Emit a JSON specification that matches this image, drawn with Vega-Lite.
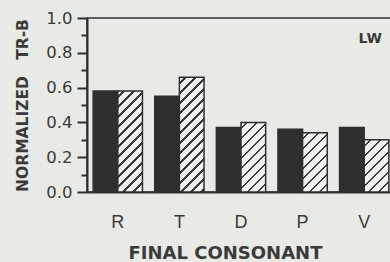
{
  "$schema": "https://vega.github.io/schema/vega-lite/v6.json",
  "width": 308,
  "height": 174,
  "autosize": "none",
  "padding": {"left": 87, "top": 18, "right": 0, "bottom": 70},
  "background": "#e7eae5",
  "config": {"view": {"stroke": "#2f2f2f", "strokeWidth": 1.5}},
  "data": {"values": [
    {"c": "R", "g": "solid", "v": 0.58},
    {"c": "R", "g": "hatched", "v": 0.58},
    {"c": "T", "g": "solid", "v": 0.55},
    {"c": "T", "g": "hatched", "v": 0.66},
    {"c": "D", "g": "solid", "v": 0.37},
    {"c": "D", "g": "hatched", "v": 0.40},
    {"c": "P", "g": "solid", "v": 0.36},
    {"c": "P", "g": "hatched", "v": 0.34},
    {"c": "V", "g": "solid", "v": 0.37},
    {"c": "V", "g": "hatched", "v": 0.30}
  ]},
  "resolve": {"axis": {"x": "independent", "y": "independent"}},
  "layer": [
    {
      "mark": {"type": "bar", "stroke": "#2f2f2f", "strokeWidth": 1.5},
      "encoding": {
        "x": {
          "field": "c", "type": "nominal", "sort": ["R", "T", "D", "P", "V"],
          "scale": {"paddingInner": 0.2, "paddingOuter": 0.1},
          "axis": {
            "title": "FINAL CONSONANT", "titleFont": "DejaVu Sans", "titleFontWeight": "bold", "titleFontSize": 18,
            "titleColor": "#3a3a3a", "titleX": 138, "titleY": 66, "titleBaseline": "alphabetic", "titleAlign": "center",
            "labelAngle": 0, "labelFont": "Liberation Sans", "labelFontSize": 18, "labelColor": "#3a3a3a",
            "labelBaseline": "alphabetic", "labelPadding": 35, "ticks": false, "tickSize": 0,
            "domainColor": "#2f2f2f", "domainWidth": 2
          }
        },
        "xOffset": {"field": "g", "type": "nominal", "sort": ["solid", "hatched"], "scale": {"paddingInner": 0, "paddingOuter": 0}},
        "y": {
          "field": "v", "type": "quantitative", "scale": {"domain": [0, 1]},
          "axis": {
            "title": "NORMALIZED\u00a0\u00a0\u00a0TR-B", "titleFont": "DejaVu Sans", "titleFontWeight": "bold", "titleFontSize": 15.5,
            "titleColor": "#3a3a3a", "titleX": -65, "titleY": 87, "titleAlign": "center", "titleBaseline": "middle",
            "values": [0, 0.1, 0.2, 0.3, 0.4, 0.5, 0.6, 0.7, 0.8, 0.9, 1.0],
            "labelExpr": "round(datum.value*10)%2===0 ? format(datum.value,'.1f') : ''",
            "labelOverlap": false, "labelFlush": false,
            "labelFont": "DejaVu Sans", "labelFontSize": 16.5, "labelColor": "#3a3a3a", "labelPadding": 5,
            "tickSize": {"condition": {"test": "round(datum.value*10)%2===0", "value": 10}, "value": 6},
            "tickWidth": 2, "tickColor": "#2f2f2f", "domainColor": "#2f2f2f", "domainWidth": 2, "grid": false
          }
        },
        "fill": {
          "condition": [
            {"test": "datum.g === 'solid'", "value": "#2f2f2f"},
            {"test": "datum.c === 'R'", "value": {"gradient": "linear", "x1": 0, "y1": 0, "x2": 0.2867, "y2": 1.1742, "stops": [
              {"offset": 0.0398, "color": "#f2f3f0"}, {"offset": 0.0398, "color": "#3a3a3a"}, {"offset": 0.0598, "color": "#3a3a3a"}, {"offset": 0.0598, "color": "#f2f3f0"},
              {"offset": 0.1195, "color": "#f2f3f0"}, {"offset": 0.1195, "color": "#3a3a3a"}, {"offset": 0.1394, "color": "#3a3a3a"}, {"offset": 0.1394, "color": "#f2f3f0"},
              {"offset": 0.1992, "color": "#f2f3f0"}, {"offset": 0.1992, "color": "#3a3a3a"}, {"offset": 0.2191, "color": "#3a3a3a"}, {"offset": 0.2191, "color": "#f2f3f0"},
              {"offset": 0.2789, "color": "#f2f3f0"}, {"offset": 0.2789, "color": "#3a3a3a"}, {"offset": 0.2988, "color": "#3a3a3a"}, {"offset": 0.2988, "color": "#f2f3f0"},
              {"offset": 0.3586, "color": "#f2f3f0"}, {"offset": 0.3586, "color": "#3a3a3a"}, {"offset": 0.3785, "color": "#3a3a3a"}, {"offset": 0.3785, "color": "#f2f3f0"},
              {"offset": 0.4382, "color": "#f2f3f0"}, {"offset": 0.4382, "color": "#3a3a3a"}, {"offset": 0.4582, "color": "#3a3a3a"}, {"offset": 0.4582, "color": "#f2f3f0"},
              {"offset": 0.5179, "color": "#f2f3f0"}, {"offset": 0.5179, "color": "#3a3a3a"}, {"offset": 0.5378, "color": "#3a3a3a"}, {"offset": 0.5378, "color": "#f2f3f0"},
              {"offset": 0.5976, "color": "#f2f3f0"}, {"offset": 0.5976, "color": "#3a3a3a"}, {"offset": 0.6175, "color": "#3a3a3a"}, {"offset": 0.6175, "color": "#f2f3f0"},
              {"offset": 0.6773, "color": "#f2f3f0"}, {"offset": 0.6773, "color": "#3a3a3a"}, {"offset": 0.6972, "color": "#3a3a3a"}, {"offset": 0.6972, "color": "#f2f3f0"},
              {"offset": 0.7570, "color": "#f2f3f0"}, {"offset": 0.7570, "color": "#3a3a3a"}, {"offset": 0.7769, "color": "#3a3a3a"}, {"offset": 0.7769, "color": "#f2f3f0"},
              {"offset": 0.8367, "color": "#f2f3f0"}, {"offset": 0.8367, "color": "#3a3a3a"}, {"offset": 0.8566, "color": "#3a3a3a"}, {"offset": 0.8566, "color": "#f2f3f0"},
              {"offset": 0.9163, "color": "#f2f3f0"}, {"offset": 0.9163, "color": "#3a3a3a"}, {"offset": 0.9363, "color": "#3a3a3a"}, {"offset": 0.9363, "color": "#f2f3f0"}
            ]}},
            {"test": "datum.c === 'T'", "value": {"gradient": "linear", "x1": 0, "y1": 0, "x2": 0.2491, "y2": 1.1611, "stops": [
              {"offset": 0.0359, "color": "#f2f3f0"}, {"offset": 0.0359, "color": "#3a3a3a"}, {"offset": 0.0538, "color": "#3a3a3a"}, {"offset": 0.0538, "color": "#f2f3f0"},
              {"offset": 0.1076, "color": "#f2f3f0"}, {"offset": 0.1076, "color": "#3a3a3a"}, {"offset": 0.1255, "color": "#3a3a3a"}, {"offset": 0.1255, "color": "#f2f3f0"},
              {"offset": 0.1793, "color": "#f2f3f0"}, {"offset": 0.1793, "color": "#3a3a3a"}, {"offset": 0.1973, "color": "#3a3a3a"}, {"offset": 0.1973, "color": "#f2f3f0"},
              {"offset": 0.2511, "color": "#f2f3f0"}, {"offset": 0.2511, "color": "#3a3a3a"}, {"offset": 0.2690, "color": "#3a3a3a"}, {"offset": 0.2690, "color": "#f2f3f0"},
              {"offset": 0.3228, "color": "#f2f3f0"}, {"offset": 0.3228, "color": "#3a3a3a"}, {"offset": 0.3407, "color": "#3a3a3a"}, {"offset": 0.3407, "color": "#f2f3f0"},
              {"offset": 0.3946, "color": "#f2f3f0"}, {"offset": 0.3946, "color": "#3a3a3a"}, {"offset": 0.4125, "color": "#3a3a3a"}, {"offset": 0.4125, "color": "#f2f3f0"},
              {"offset": 0.4663, "color": "#f2f3f0"}, {"offset": 0.4663, "color": "#3a3a3a"}, {"offset": 0.4842, "color": "#3a3a3a"}, {"offset": 0.4842, "color": "#f2f3f0"},
              {"offset": 0.5380, "color": "#f2f3f0"}, {"offset": 0.5380, "color": "#3a3a3a"}, {"offset": 0.5560, "color": "#3a3a3a"}, {"offset": 0.5560, "color": "#f2f3f0"},
              {"offset": 0.6098, "color": "#f2f3f0"}, {"offset": 0.6098, "color": "#3a3a3a"}, {"offset": 0.6277, "color": "#3a3a3a"}, {"offset": 0.6277, "color": "#f2f3f0"},
              {"offset": 0.6815, "color": "#f2f3f0"}, {"offset": 0.6815, "color": "#3a3a3a"}, {"offset": 0.6994, "color": "#3a3a3a"}, {"offset": 0.6994, "color": "#f2f3f0"},
              {"offset": 0.7532, "color": "#f2f3f0"}, {"offset": 0.7532, "color": "#3a3a3a"}, {"offset": 0.7712, "color": "#3a3a3a"}, {"offset": 0.7712, "color": "#f2f3f0"},
              {"offset": 0.8250, "color": "#f2f3f0"}, {"offset": 0.8250, "color": "#3a3a3a"}, {"offset": 0.8429, "color": "#3a3a3a"}, {"offset": 0.8429, "color": "#f2f3f0"},
              {"offset": 0.8967, "color": "#f2f3f0"}, {"offset": 0.8967, "color": "#3a3a3a"}, {"offset": 0.9146, "color": "#3a3a3a"}, {"offset": 0.9146, "color": "#f2f3f0"},
              {"offset": 0.9684, "color": "#f2f3f0"}, {"offset": 0.9684, "color": "#3a3a3a"}, {"offset": 0.9864, "color": "#3a3a3a"}, {"offset": 0.9864, "color": "#f2f3f0"}
            ]}},
            {"test": "datum.c === 'D'", "value": {"gradient": "linear", "x1": 0, "y1": 0, "x2": 0.4260, "y2": 1.2032, "stops": [
              {"offset": 0.0531, "color": "#f2f3f0"}, {"offset": 0.0531, "color": "#3a3a3a"}, {"offset": 0.0796, "color": "#3a3a3a"}, {"offset": 0.0796, "color": "#f2f3f0"},
              {"offset": 0.1592, "color": "#f2f3f0"}, {"offset": 0.1592, "color": "#3a3a3a"}, {"offset": 0.1858, "color": "#3a3a3a"}, {"offset": 0.1858, "color": "#f2f3f0"},
              {"offset": 0.2654, "color": "#f2f3f0"}, {"offset": 0.2654, "color": "#3a3a3a"}, {"offset": 0.2919, "color": "#3a3a3a"}, {"offset": 0.2919, "color": "#f2f3f0"},
              {"offset": 0.3715, "color": "#f2f3f0"}, {"offset": 0.3715, "color": "#3a3a3a"}, {"offset": 0.3981, "color": "#3a3a3a"}, {"offset": 0.3981, "color": "#f2f3f0"},
              {"offset": 0.4777, "color": "#f2f3f0"}, {"offset": 0.4777, "color": "#3a3a3a"}, {"offset": 0.5042, "color": "#3a3a3a"}, {"offset": 0.5042, "color": "#f2f3f0"},
              {"offset": 0.5839, "color": "#f2f3f0"}, {"offset": 0.5839, "color": "#3a3a3a"}, {"offset": 0.6104, "color": "#3a3a3a"}, {"offset": 0.6104, "color": "#f2f3f0"},
              {"offset": 0.6900, "color": "#f2f3f0"}, {"offset": 0.6900, "color": "#3a3a3a"}, {"offset": 0.7166, "color": "#3a3a3a"}, {"offset": 0.7166, "color": "#f2f3f0"},
              {"offset": 0.7962, "color": "#f2f3f0"}, {"offset": 0.7962, "color": "#3a3a3a"}, {"offset": 0.8227, "color": "#3a3a3a"}, {"offset": 0.8227, "color": "#f2f3f0"},
              {"offset": 0.9023, "color": "#f2f3f0"}, {"offset": 0.9023, "color": "#3a3a3a"}, {"offset": 0.9289, "color": "#3a3a3a"}, {"offset": 0.9289, "color": "#f2f3f0"}
            ]}},
            {"test": "datum.c === 'P'", "value": {"gradient": "linear", "x1": 0, "y1": 0, "x2": 0.5028, "y2": 1.2071, "stops": [
              {"offset": 0.0597, "color": "#f2f3f0"}, {"offset": 0.0597, "color": "#3a3a3a"}, {"offset": 0.0895, "color": "#3a3a3a"}, {"offset": 0.0895, "color": "#f2f3f0"},
              {"offset": 0.1790, "color": "#f2f3f0"}, {"offset": 0.1790, "color": "#3a3a3a"}, {"offset": 0.2088, "color": "#3a3a3a"}, {"offset": 0.2088, "color": "#f2f3f0"},
              {"offset": 0.2983, "color": "#f2f3f0"}, {"offset": 0.2983, "color": "#3a3a3a"}, {"offset": 0.3282, "color": "#3a3a3a"}, {"offset": 0.3282, "color": "#f2f3f0"},
              {"offset": 0.4177, "color": "#f2f3f0"}, {"offset": 0.4177, "color": "#3a3a3a"}, {"offset": 0.4475, "color": "#3a3a3a"}, {"offset": 0.4475, "color": "#f2f3f0"},
              {"offset": 0.5370, "color": "#f2f3f0"}, {"offset": 0.5370, "color": "#3a3a3a"}, {"offset": 0.5668, "color": "#3a3a3a"}, {"offset": 0.5668, "color": "#f2f3f0"},
              {"offset": 0.6563, "color": "#f2f3f0"}, {"offset": 0.6563, "color": "#3a3a3a"}, {"offset": 0.6862, "color": "#3a3a3a"}, {"offset": 0.6862, "color": "#f2f3f0"},
              {"offset": 0.7757, "color": "#f2f3f0"}, {"offset": 0.7757, "color": "#3a3a3a"}, {"offset": 0.8055, "color": "#3a3a3a"}, {"offset": 0.8055, "color": "#f2f3f0"},
              {"offset": 0.8950, "color": "#f2f3f0"}, {"offset": 0.8950, "color": "#3a3a3a"}, {"offset": 0.9248, "color": "#3a3a3a"}, {"offset": 0.9248, "color": "#f2f3f0"}
            ]}}
          ],
          "value": {"gradient": "linear", "x1": 0, "y1": 0, "x2": 0.5682, "y2": 1.2038, "stops": [
            {"offset": 0.0651, "color": "#f2f3f0"}, {"offset": 0.0651, "color": "#3a3a3a"}, {"offset": 0.0977, "color": "#3a3a3a"}, {"offset": 0.0977, "color": "#f2f3f0"},
            {"offset": 0.1953, "color": "#f2f3f0"}, {"offset": 0.1953, "color": "#3a3a3a"}, {"offset": 0.2279, "color": "#3a3a3a"}, {"offset": 0.2279, "color": "#f2f3f0"},
            {"offset": 0.3255, "color": "#f2f3f0"}, {"offset": 0.3255, "color": "#3a3a3a"}, {"offset": 0.3581, "color": "#3a3a3a"}, {"offset": 0.3581, "color": "#f2f3f0"},
            {"offset": 0.4557, "color": "#f2f3f0"}, {"offset": 0.4557, "color": "#3a3a3a"}, {"offset": 0.4883, "color": "#3a3a3a"}, {"offset": 0.4883, "color": "#f2f3f0"},
            {"offset": 0.5859, "color": "#f2f3f0"}, {"offset": 0.5859, "color": "#3a3a3a"}, {"offset": 0.6185, "color": "#3a3a3a"}, {"offset": 0.6185, "color": "#f2f3f0"},
            {"offset": 0.7161, "color": "#f2f3f0"}, {"offset": 0.7161, "color": "#3a3a3a"}, {"offset": 0.7487, "color": "#3a3a3a"}, {"offset": 0.7487, "color": "#f2f3f0"},
            {"offset": 0.8464, "color": "#f2f3f0"}, {"offset": 0.8464, "color": "#3a3a3a"}, {"offset": 0.8789, "color": "#3a3a3a"}, {"offset": 0.8789, "color": "#f2f3f0"}
          ]}
        }
      }
    },
    {
      "data": {"values": [{"label": "LW"}]},
      "mark": {"type": "text", "font": "DejaVu Sans", "fontWeight": "bold", "fontSize": 14, "fill": "#3a3a3a", "dx": 6, "baseline": "middle", "align": "center"},
      "encoding": {
        "x": {"datum": "V", "axis": null},
        "y": {"datum": 0.882, "axis": null},
        "text": {"field": "label"}
      }
    }
  ]
}
